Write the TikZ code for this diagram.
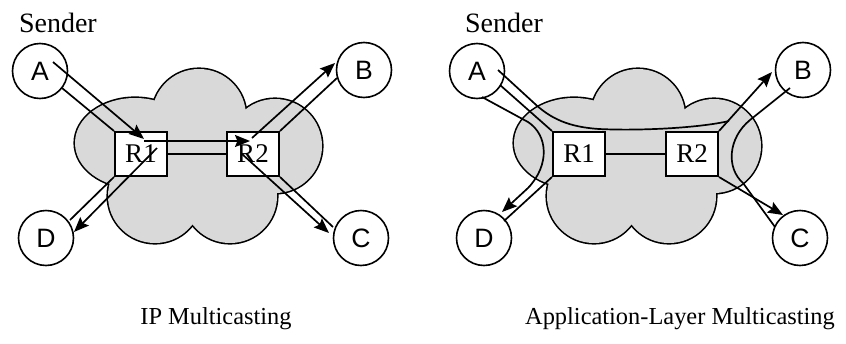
\documentclass[tikz,border=0pt]{standalone}
\usepackage{fontspec}
\setmainfont{Liberation Serif}
\newfontfamily\hostfont{Liberation Sans}
\usetikzlibrary{arrows.meta}

\definecolor{cloudfill}{gray}{0.85}

\tikzset{
  host/.style={circle, draw, line width=0.8pt, minimum size=27.5pt, inner sep=0pt,
    font=\hostfont\fontsize{13.3}{16}\selectfont},
  router/.style={rectangle, draw, line width=1pt, fill=white, minimum width=26pt,
    minimum height=22pt, inner sep=0pt, font=\fontsize{13.5}{16}\selectfont},
  wire/.style={line width=0.85pt},
  flow/.style={wire, -{Stealth[length=7.5pt,width=6pt,inset=1.2pt]}},
  caption/.style={font=\fontsize{12.2}{15}\selectfont, anchor=base},
  % network cloud: union of bumps, outline first, then the fill on top
  cloudbumps/.style={insert path={
      (199,116) circle[radius=47] (275,146) circle[radius=47]
      (230,196) circle[radius=47] (155,196) circle[radius=47]
      (135,143) ellipse[x radius=60, y radius=45]
      (195,165) circle[radius=45]}},
  netcloud/.pic={
    \path[draw, line width=1.6pt, cloudbumps];
    \path[fill=cloudfill, cloudbumps];
  }
}

\begin{document}
\begin{tikzpicture}[x=0.5pt, y=-0.5pt]
\useasboundingbox (0,0) rectangle (846,343);

% ---------------- IP multicasting ----------------
\pic at (0,0) {netcloud};
\node[anchor=base west, font=\fontsize{14}{17}\selectfont] (snd1) at (12,32) {Sender};

\node[host] (A1) at (40,71) {A};
\node[host] (B1) at (364,70) {B};
\node[host] (C1) at (361,238) {C};
\node[host] (D1) at (46,238) {D};
\node[router] (R11) at (141,154) {R1};
\node[router] (R21) at (253,154) {R2};

\coordinate (a1s) at (53,62);
\coordinate (r1in) at (144,139);
\coordinate (r1top) at (144,141);
\coordinate (r2in) at (250,141);
\coordinate (b1s) at (252,138);
\coordinate (b1t) at (335,63);
\coordinate (b1e) at (337,78);
\coordinate (c1s) at (242,154);
\coordinate (c1t) at (329,233);
\coordinate (c1e) at (333,227);
\coordinate (d1s) at (157,148);
\coordinate (d1t) at (74,232);
\coordinate (d1e) at (70,220);
\coordinate (a1e) at (62,88);

\draw[flow] (a1s) -- (r1in);
\draw[wire] (a1e) -- (R11.north west);
\draw[flow] (r1top) -- (r2in);
\draw[wire] (R11.east) -- (R21.west);
\draw[flow] (b1s) -- (b1t);
\draw[wire] (R21.north east) -- (b1e);
\draw[flow] (c1s) -- (c1t);
\draw[wire] (R21.south east) -- (c1e);
\draw[flow] (d1s) -- (d1t);
\draw[wire] (R11.south west) -- (d1e);

\node[caption] (cap1) at (216,324) {IP Multicasting};

% ---------------- application-layer multicasting ----------------
\begin{scope}[xshift=219.5pt]
\pic at (0,0) {netcloud};
\node[anchor=base west, font=\fontsize{14}{17}\selectfont] (snd2) at (19,32) {Sender};

\node[host] (A2) at (38,71) {A};
\node[host] (B2) at (364,70) {B};
\node[host] (C2) at (361,238) {C};
\node[host] (D2) at (45,238) {D};
\node[router] (R12) at (140,154) {R1};
\node[router] (R22) at (253,154) {R2};

\coordinate (a2s) at (59,70);
\coordinate (a2e) at (61,85);
\coordinate (a2b) at (43,97);
\coordinate (b2t) at (333,72);
\coordinate (b2b) at (351,88);
\coordinate (d2t) at (63,212);
\coordinate (d2e) at (65,221);
\coordinate (c2t) at (344,215);
\coordinate (c2e) at (336,227);
\coordinate (g2) at (290,121);

% unicast A -> B over the top of the routers
\draw[wire] (a2s) -- (95,103) .. controls (112,119) and (130,127) .. (160,129)
  .. controls (200,131) and (260,128) .. (g2);
\draw[wire] (a2e) -- (R12.north west);
\draw[flow] (R22.north east) -- (b2t);
% A -> D around R1
\draw[flow] (a2b) -- (89,122) .. controls (109,135) and (111,165) .. (89,188) -- (d2t);
\draw[wire] (R12.south west) -- (d2e);
% B -> C around R2
\draw[wire] (b2b) -- (311,120) .. controls (289,138) and (287,168) .. (304,183) -- (c2e);
\draw[flow] (R22.south east) -- (c2t);
\draw[wire] (R12.east) -- (R22.west);

\node[caption] (cap2) at (241,324) {Application-Layer Multicasting};
\end{scope}
\end{tikzpicture}
\end{document}
